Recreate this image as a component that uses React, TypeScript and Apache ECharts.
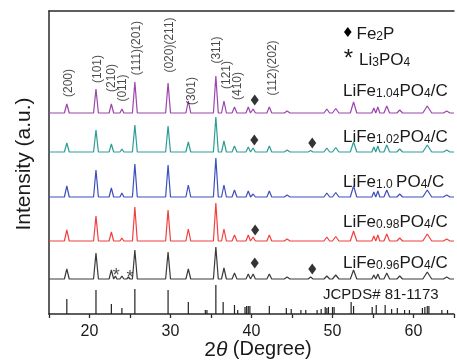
import React, { useEffect, useRef } from "react";
import * as echarts from "echarts";

// ---- data ----
const xMin = 15;
const xMax = 65;
const yMax = 303;

// common diffraction peak positions (2θ, degrees)
const peakPos = [17.2, 20.8, 22.7, 23.2, 24.0, 24.8, 25.6, 29.7, 32.2, 35.6, 36.6, 37.9, 39.6, 40.2, 42.2, 44.4, 47.3, 49.3, 50.4, 52.6, 55.1, 55.6, 56.7, 58.3, 61.7, 64.1];
const peakHalfWidth = [0.3, 0.3, 0.28, 0.18, 0.24, 0.2, 0.3, 0.3, 0.3, 0.3, 0.3, 0.3, 0.28, 0.28, 0.3, 0.35, 0.3, 0.35, 0.4, 0.4, 0.24, 0.24, 0.35, 0.35, 0.55, 0.4];

const purpleH = [9, 24, 9, 0, 4, 0, 31, 30, 12, 37, 12, 6, 6, 4, 6, 2, 0, 4, 4.5, 11, 5, 6, 7, 3, 7, 2];
const tealH = [9, 22, 8, 0, 3, 0, 27, 26, 10, 35, 11, 6, 5, 4, 6, 2, 1.5, 4, 4.5, 10, 5, 6, 7, 3, 7, 2];
const blueH = [11, 27, 9, 0, 4, 0, 33, 32, 12, 39, 12, 7, 6, 3, 6, 2, 0, 4, 4.5, 11, 5, 6, 7, 3, 7, 2];
const redH = [11, 25, 9, 0, 3, 0, 34, 31, 12, 38, 12, 6, 6, 4, 6, 2, 0, 4, 4.5, 10, 5, 6, 7, 3, 7, 2];
const blackH = [10, 26, 9, 3, 3, 2, 29, 27, 10, 32, 11, 6, 5, 5, 5, 2, 2, 3, 4, 9, 4, 5, 6, 3, 7, 2];

const seriesBase = [201, 162, 117, 73, 35];
const seriesHeights = [purpleH, tealH, blueH, redH, blackH];
const seriesColors = ["#9b45ad", "#2c9d97", "#3d4fbd", "#f0403f", "#3a3a3a"];
const feSub = ["1.04", "1.02", "1.0 ", "0.98", "0.96"];
const labelPixelY = [89, 135, 180, 220, 261];

// JCPDS# 81-1173 reference lines
const jcpdsPos = [17.2, 20.8, 22.7, 24.0, 25.6, 29.7, 32.2, 34.3, 34.5, 35.6, 36.5, 37.9, 38.3, 39.2, 39.4, 39.6, 39.8, 42.2, 44.3, 44.9, 46.1, 46.7, 48.1, 48.6, 49.1, 49.3, 49.5, 50.0, 50.2, 52.3, 52.6, 54.9, 55.4, 56.5, 57.3, 58.0, 58.9, 59.5, 61.1, 61.4, 61.7, 61.9, 63.5, 64.2];
const jcpdsInt = [15, 24, 10, 6, 25, 24, 12, 4, 4, 29, 12, 9, 4, 7, 8, 8, 8, 8, 6, 5, 4, 4, 4, 5, 7, 6, 7, 7, 7, 12, 8, 7, 9, 9, 5, 6, 4, 4, 6, 7, 8, 8, 4, 4];

// Miller index annotations
const millerNames = ["(200)", "(101)", "(210)", "(011)", "(111)(201)", "(020)(211)", "(301)", "(311)", "(121)", "(410)", "(112)(202)"];
const millerX = [17.4, 20.95, 22.65, 24.0, 25.7, 29.85, 32.5, 35.6, 36.8, 38.15, 42.5];
const millerY = [231, 245, 236, 226, 266, 269, 223, 264, 239, 228, 246];

// Fe2P markers
const fe2pX = [40.4, 40.35, 47.5, 40.45, 40.4, 47.5];
const fe2pY = [214, 174, 171, 84, 51, 45];

// Li3PO4 markers
const li3X = [23.3, 25.0];
const li3Y = [43, 41];

const FONT = "'Liberation Sans', Arial, Helvetica, sans-serif";

function buildProfile(base: number, heights: number[]) {
  const pts: number[][] = [[xMin, base]];
  peakPos.forEach((p, i) => {
    const w = peakHalfWidth[i];
    pts.push([p - w, base], [p, base + heights[i]], [p + w, base]);
  });
  pts.push([xMax, base]);
  return pts;
}

const richMain = { fontSize: 17, fontFamily: FONT, lineHeight: 20, fill: "#1a1a1a", verticalAlign: "bottom" };
const richSub = { fontSize: 12, fontFamily: FONT, lineHeight: 13, fill: "#1a1a1a", verticalAlign: "bottom" };

export default function App() {
  const ref = useRef<HTMLDivElement>(null);
  useEffect(() => {
    if (!ref.current) return;
    const chart = echarts.init(ref.current, undefined, { renderer: "svg" });

    const lineSeries = seriesHeights.map((h, i) => ({
      type: "line",
      data: buildProfile(seriesBase[i], h),
      symbol: "none",
      lineStyle: { color: seriesColors[i], width: 1.2 },
      z: 3,
    }));

    const labelTexts = feSub.map((s, i) => ({
      type: "text",
      x: 343,
      y: labelPixelY[i],
      style: {
        text: `{m|LiFe}{s|${s}}{m|PO}{s|4}{m|/C}`,
        textAlign: "left",
        textVerticalAlign: "middle",
        rich: { m: richMain, s: richSub },
      },
    }));

    chart.setOption({
      animation: false,
      grid: { left: 49, top: 11, width: 409, height: 303 },
      xAxis: [
        {
          type: "value",
          min: xMin,
          max: xMax,
          interval: 5,
          position: "bottom",
          axisLine: { show: true, lineStyle: { color: "#2a2a2a", width: 1.5 } },
          axisTick: { show: true, inside: false, length: 4, lineStyle: { color: "#2a2a2a", width: 1.3 } },
          axisLabel: {
            show: true,
            margin: 8,
            fontSize: 16,
            lineHeight: 16,
            fontFamily: FONT,
            color: "#1a1a1a",
            formatter: (v: number) => (v % 10 === 0 ? String(v) : ""),
          },
          splitLine: { show: false },
        },
        {
          type: "value",
          min: xMin,
          max: xMax,
          position: "top",
          axisLine: { show: true, onZero: false, lineStyle: { color: "#2a2a2a", width: 1.5 } },
          axisTick: { show: false },
          axisLabel: { show: false },
          splitLine: { show: false },
        },
      ],
      yAxis: {
        type: "value",
        min: 0,
        max: yMax,
        axisLine: { show: true, lineStyle: { color: "#2a2a2a", width: 1.5 } },
        axisTick: { show: false },
        axisLabel: { show: false },
        splitLine: { show: false },
      },
      series: [
        ...lineSeries,
        {
          type: "bar",
          data: jcpdsPos.map((p, i) => [p, jcpdsInt[i]]),
          barWidth: 1.2,
          itemStyle: { color: "#222" },
          z: 2,
        },
        {
          type: "scatter",
          data: millerNames.map((n, i) => ({ name: n, value: [millerX[i], millerY[i]] })),
          symbolSize: 0,
          label: {
            show: true,
            position: "inside",
            rotate: 90,
            formatter: "{b}",
            fontSize: 12,
            fontFamily: FONT,
            color: "#1a1a1a",
          },
          z: 4,
        },
        {
          type: "scatter",
          data: fe2pX.map((x, i) => [x, fe2pY[i]]),
          symbol: "diamond",
          symbolSize: [8, 11],
          itemStyle: { color: "#000" },
          z: 5,
        },
        {
          type: "scatter",
          data: li3X.map((x, i) => [x, li3Y[i]]),
          symbolSize: 0,
          label: {
            show: true,
            position: "inside",
            formatter: "*",
            fontSize: 18,
            fontFamily: FONT,
            color: "#222",
            offset: [0, 4],
          },
          z: 5,
        },
      ],
      graphic: [
        ...labelTexts,
        {
          type: "text",
          x: 323,
          y: 293,
          style: {
            text: "JCPDS# 81-1173",
            font: `15px ${FONT}`,
            fill: "#1a1a1a",
            textAlign: "left",
            textVerticalAlign: "middle",
          },
        },
        {
          type: "polygon",
          shape: { points: [[344, 32], [347.8, 27], [351.6, 32], [347.8, 37]] },
          style: { fill: "#000" },
        },
        {
          type: "text",
          x: 356.5,
          y: 31.5,
          style: {
            text: "{m|Fe}{s|2}{m|P}",
            textAlign: "left",
            textVerticalAlign: "middle",
            rich: { m: richMain, s: richSub },
          },
        },
        {
          type: "text",
          x: 348.5,
          y: 57,
          style: {
            text: "*",
            font: `24px ${FONT}`,
            fill: "#1a1a1a",
            textAlign: "center",
            textVerticalAlign: "middle",
          },
        },
        {
          type: "text",
          x: 359,
          y: 58,
          style: {
            text: "{m|Li}{s|3}{m|PO}{s|4}",
            textAlign: "left",
            textVerticalAlign: "middle",
            rich: { m: richMain, s: richSub },
          },
        },
        {
          type: "text",
          x: 22,
          y: 164,
          rotation: Math.PI / 2,
          style: {
            text: "Intensity (a.u.)",
            font: `21px ${FONT}`,
            fill: "#1a1a1a",
            textAlign: "center",
            textVerticalAlign: "middle",
          },
        },
        {
          type: "text",
          x: 258,
          y: 348,
          style: {
            text: "{n|2}{t|θ}{g| (Degree)}",
            textAlign: "center",
            textVerticalAlign: "middle",
            rich: {
              n: { fontSize: 21, lineHeight: 18, fontFamily: FONT, fill: "#1a1a1a" },
              t: { fontSize: 21, lineHeight: 18, fontFamily: FONT, fontStyle: "italic", fill: "#1a1a1a" },
              g: { fontSize: 20, lineHeight: 18, fontFamily: FONT, fill: "#1a1a1a" },
            },
          },
        },
      ],
    });
    return () => chart.dispose();
  }, []);
  return <div ref={ref} style={{ position: "fixed", left: 0, top: 0, width: 457, height: 362 }} />;
}
